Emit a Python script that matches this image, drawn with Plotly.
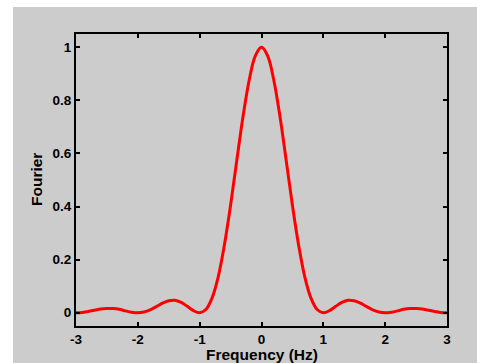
import plotly.graph_objects as go

# Frequency samples (Hz) and the Fourier magnitude read at each one
freq = [-3.0, -2.9, -2.8, -2.7, -2.6, -2.5, -2.4, -2.3, -2.2, -2.1,
        -2.0, -1.9, -1.8, -1.7, -1.6, -1.5, -1.4, -1.3, -1.2, -1.1,
        -1.0, -0.9, -0.8, -0.7, -0.6, -0.5, -0.4, -0.3, -0.2, -0.1,
        0.0, 0.1, 0.2, 0.3, 0.4, 0.5, 0.6, 0.7, 0.8, 0.9,
        1.0, 1.1, 1.2, 1.3, 1.4, 1.5, 1.6, 1.7, 1.8, 1.9,
        2.0, 2.1, 2.2, 2.3, 2.4, 2.5, 2.6, 2.7, 2.8, 2.9, 3.0]
fourier = [0.000, 0.001, 0.005, 0.009, 0.014, 0.016, 0.016, 0.013, 0.007, 0.002,
           0.000, 0.003, 0.011, 0.023, 0.036, 0.045, 0.047, 0.039, 0.024, 0.008,
           0.000, 0.012, 0.055, 0.135, 0.255, 0.405, 0.573, 0.737, 0.875, 0.968,
           1.000, 0.968, 0.875, 0.737, 0.573, 0.405, 0.255, 0.135, 0.055, 0.012,
           0.000, 0.008, 0.024, 0.039, 0.047, 0.045, 0.036, 0.023, 0.011, 0.003,
           0.000, 0.002, 0.007, 0.013, 0.016, 0.016, 0.014, 0.009, 0.005, 0.001, 0.000]

x_ticks = [-3, -2, -1, 0, 1, 2, 3]
y_ticks = [0, 0.2, 0.4, 0.6, 0.8, 1]
y_tick_text = ["0", "0.2", "0.4", "0.6", "0.8", "1"]

W, H = 477, 363
L, R, T, B = 76, 30, 34, 37
pw, ph = W - L - R, H - T - B

fig = go.Figure()
fig.add_trace(go.Scatter(
    x=freq, y=fourier, mode="lines",
    line=dict(color="#ff0000", width=3, shape="spline", smoothing=1.0),
    hoverinfo="skip", showlegend=False,
))

FONT = "Liberation Sans, Arial"
tickfont = dict(family=FONT, size=13.5, color="black", weight="bold")

fig.update_layout(
    width=W, height=H,
    margin=dict(l=L, r=R, t=T, b=B, pad=0),
    paper_bgcolor="white",
    plot_bgcolor="white",
    xaxis=dict(
        range=[-3, 3], tickvals=x_ticks, ticktext=[str(v) for v in x_ticks],
        ticks="inside", ticklen=4, tickwidth=1.5, tickcolor="black",
        showline=True, linecolor="black", linewidth=2, mirror="allticks",
        showgrid=False, zeroline=False, tickfont=tickfont, automargin=False,
    ),
    yaxis=dict(
        range=[-0.05, 1.05], tickvals=y_ticks, ticktext=y_tick_text,
        ticks="inside", ticklen=4, tickwidth=1.5, tickcolor="black",
        showline=True, linecolor="black", linewidth=2, mirror="allticks",
        showgrid=False, zeroline=False, tickfont=tickfont, automargin=False,
    ),
    shapes=[dict(
        type="rect", xref="paper", yref="paper", layer="below",
        x0=(13 - L) / pw, x1=(W - L) / pw,
        y0=-(B + 5) / ph, y1=(H - B - 7) / ph,
        fillcolor="#cccccc", line=dict(width=0),
    )],
    annotations=[
        dict(text="Frequency (Hz)", xref="paper", yref="paper",
             x=0.5, y=-(354 - (T + ph)) / ph, xanchor="center", yanchor="middle",
             showarrow=False, font=dict(family=FONT, size=15.5, color="black", weight="bold")),
        dict(text="Fourier", xref="paper", yref="paper",
             x=(36 - L) / pw, y=(T + ph - 180) / ph, xanchor="center", yanchor="middle",
             textangle=-90, showarrow=False,
             font=dict(family=FONT, size=15.5, color="black", weight="bold")),
    ],
)

fig.write_html("out.html")
